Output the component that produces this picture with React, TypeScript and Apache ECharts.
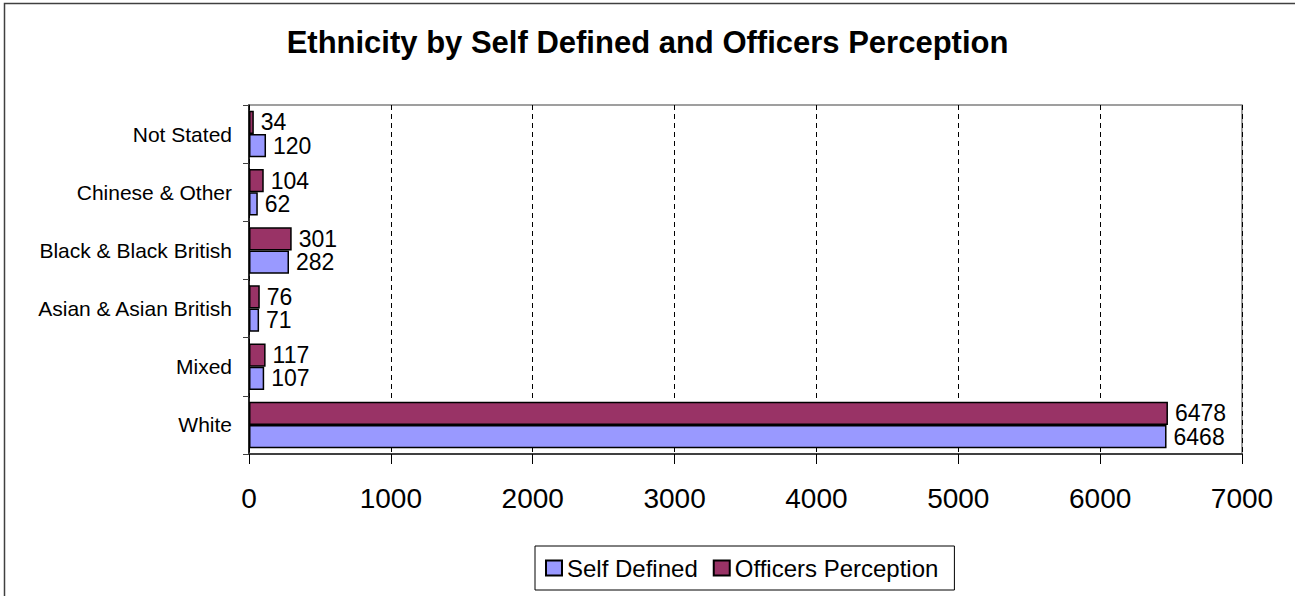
import React, { useEffect, useRef } from "react";
import * as echarts from "echarts";

const categories = [
  "White",
  "Mixed",
  "Asian & Asian British",
  "Black & Black British",
  "Chinese & Other",
  "Not Stated",
];
const selfDefined = [6468, 107, 71, 282, 62, 120];
const officersPerception = [6478, 117, 76, 301, 104, 34];
const xTicks = { min: 0, max: 7000, interval: 1000 };

const FONT = "'Liberation Sans', Arial, sans-serif";

export default function App() {
  const ref = useRef<HTMLDivElement>(null);
  useEffect(() => {
    if (!ref.current) return;
    const chart = echarts.init(ref.current, null, { renderer: "svg" });
    const labelStyle = {
      show: true,
      position: "right" as const,
      distance: 7,
      color: "#000",
      fontSize: 23,
      lineHeight: 20,
      fontFamily: FONT,
    };
    chart.setOption({
      animation: false,
      backgroundColor: "#fff",
      textStyle: { fontFamily: FONT },
      title: {
        text: "Ethnicity by Self Defined and Officers Perception",
        left: "center",
        top: 22,
        textStyle: { fontSize: 31, fontWeight: "bold", color: "#000", fontFamily: FONT },
      },
      graphic: [
        {
          type: "rect",
          shape: { x: 4.5, y: 3.5, width: 1400, height: 700 },
          style: { fill: "none", stroke: "#404040", lineWidth: 1.5 },
          silent: true,
          z: -1,
        },
      ],
      legend: {
        left: 535,
        top: 546,
        orient: "horizontal",
        padding: [10, 16, 10, 10],
        itemGap: 15,
        itemWidth: 16,
        itemHeight: 15,
        icon: "rect",
        borderColor: "#000",
        borderWidth: 1,
        textStyle: { fontSize: 24, color: "#000", fontFamily: FONT },
        data: ["Self Defined", "Officers Perception"],
      },
      grid: {
        left: 249,
        right: 53,
        top: 105,
        bottom: 142,
        show: true,
        borderColor: "#808080",
        borderWidth: 1.5,
      },
      xAxis: {
        type: "value",
        min: xTicks.min,
        max: xTicks.max,
        interval: xTicks.interval,
        axisLine: { show: true, lineStyle: { color: "#404040", width: 2 } },
        axisTick: { show: true, length: 10, lineStyle: { color: "#000", width: 1 } },
        axisLabel: {
          fontSize: 28,
          color: "#000",
          margin: 30,
          fontFamily: FONT,
          formatter: (v: number) => String(v),
        },
        splitLine: { show: true, lineStyle: { color: "#000", type: [5, 4], width: 1 } },
      },
      yAxis: {
        type: "category",
        data: categories,
        axisLine: { show: true, lineStyle: { color: "#000", width: 1.5 } },
        axisTick: { show: true, length: 6, lineStyle: { color: "#404040", width: 1 } },
        axisLabel: { fontSize: 21, color: "#000", margin: 17, fontFamily: FONT },
        splitLine: { show: false },
      },
      series: [
        {
          name: "Officers Perception",
          type: "bar",
          data: officersPerception,
          barGap: "0%",
          barCategoryGap: "20%",
          itemStyle: { color: "#993366", borderColor: "#000", borderWidth: 1.5 },
          label: labelStyle,
        },
        {
          name: "Self Defined",
          type: "bar",
          data: selfDefined,
          barGap: "0%",
          barCategoryGap: "20%",
          itemStyle: { color: "#9999FF", borderColor: "#000", borderWidth: 1.5 },
          label: labelStyle,
        },
      ],
    });
    return () => chart.dispose();
  }, []);
  return (
    <div
      ref={ref}
      style={{ position: "absolute", left: 0, top: 0, width: 1295, height: 596 }}
    />
  );
}
